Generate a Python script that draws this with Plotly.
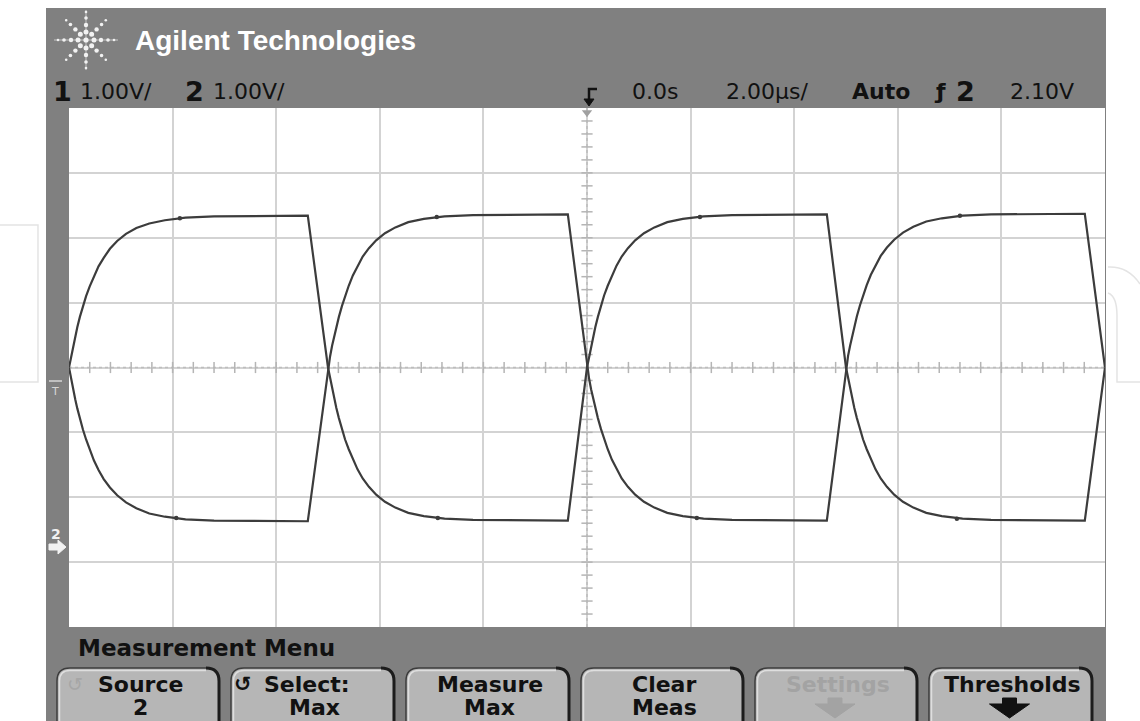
import math
import plotly.graph_objects as go

W, H = 1140, 721

# ---- acquired waveforms (time in µs, voltage in V) ----
t_us = [
    -10.00, -9.96, -9.92, -9.88, -9.84, -9.79, -9.73, -9.67, -9.60, -9.52, -9.43,
    -9.33, -9.21, -9.07, -8.90, -8.70, -8.45, -8.15, -7.75, -7.20, -5.39,
    -5.00, -4.96, -4.92, -4.88, -4.84, -4.79, -4.73, -4.67, -4.60, -4.52, -4.43,
    -4.33, -4.21, -4.07, -3.90, -3.70, -3.45, -3.15, -2.75, -2.20, -0.37,
    0.00, 0.04, 0.08, 0.12, 0.16, 0.21, 0.27, 0.33, 0.40, 0.48, 0.57,
    0.67, 0.79, 0.93, 1.10, 1.30, 1.55, 1.85, 2.25, 2.80, 4.63,
    5.00, 5.04, 5.08, 5.12, 5.16, 5.21, 5.27, 5.33, 5.40, 5.48, 5.57,
    5.67, 5.79, 5.93, 6.10, 6.30, 6.55, 6.85, 7.25, 7.80, 9.61,
    10.00,
]
ch1_v = [
    0.00, 0.17, 0.33, 0.48, 0.62, 0.78, 0.95, 1.10, 1.25, 1.41, 1.56,
    1.69, 1.83, 1.95, 2.06, 2.15, 2.22, 2.27, 2.31, 2.33, 2.34,
    0.00, -0.17, -0.34, -0.49, -0.62, -0.78, -0.95, -1.11, -1.26, -1.42, -1.57,
    -1.71, -1.84, -1.96, -2.07, -2.16, -2.24, -2.29, -2.33, -2.35, -2.36,
    0.00, 0.17, 0.34, 0.49, 0.62, 0.78, 0.95, 1.11, 1.26, 1.42, 1.57,
    1.71, 1.84, 1.96, 2.07, 2.16, 2.24, 2.29, 2.33, 2.35, 2.36,
    0.00, -0.17, -0.34, -0.49, -0.62, -0.78, -0.95, -1.11, -1.26, -1.42, -1.57,
    -1.71, -1.84, -1.96, -2.07, -2.16, -2.24, -2.29, -2.33, -2.35, -2.36,
    0.00,
]
ch2_v = [
    0.00, -0.18, -0.34, -0.49, -0.63, -0.79, -0.96, -1.11, -1.27, -1.43, -1.58,
    -1.72, -1.85, -1.97, -2.08, -2.17, -2.25, -2.30, -2.34, -2.36, -2.37,
    0.00, 0.17, 0.34, 0.49, 0.62, 0.78, 0.95, 1.11, 1.26, 1.42, 1.57,
    1.71, 1.84, 1.96, 2.07, 2.16, 2.24, 2.29, 2.33, 2.35, 2.36,
    0.00, -0.17, -0.34, -0.49, -0.62, -0.78, -0.95, -1.11, -1.26, -1.42, -1.57,
    -1.71, -1.84, -1.96, -2.07, -2.16, -2.24, -2.29, -2.33, -2.35, -2.36,
    0.00, 0.18, 0.34, 0.49, 0.63, 0.79, 0.96, 1.11, 1.27, 1.43, 1.58,
    1.72, 1.85, 1.97, 2.08, 2.17, 2.25, 2.30, 2.34, 2.36, 2.37,
    0.00,
]

# measurement cursor dots sitting on the flat tops / bottoms
dot_t = [-7.86, -7.93, -2.90, -2.88, 2.18, 2.12, 7.20, 7.14]
dot_v = [2.30, -2.32, 2.32, -2.32, 2.32, -2.32, 2.34, -2.33]

# ---- screen settings ----
time_per_div = 2.0      # µs/div
volt_per_div = 1.0      # V/div
h_divs, v_divs = 10, 8
trigger_time = 0.0
x_range = [-h_divs / 2 * time_per_div, h_divs / 2 * time_per_div]
y_range = [-v_divs / 2 * volt_per_div, v_divs / 2 * volt_per_div]

brand = "Agilent Technologies"
ch_scales = [("1", "1.00V/"), ("2", "1.00V/")]
timebase = ["0.0s", "2.00µs/"]
trig_mode, trig_src, trig_level = "Auto", "2", "2.10V"
menu_title = "Measurement Menu"
buttons = [("Source", "2"), ("Select:", "Max"), ("Measure", "Max"),
           ("Clear", "Meas"), ("Settings", ""), ("Thresholds", "")]

# ---- screen geometry (pixels) ----
FRAME = (46, 8, 1106, 721)
GRID = (69, 108, 1105, 627)
FRAME_GRAY = "#808080"
TRACE = "#3c3c3c"


def px(x):
    return x / W


def py(y):
    return 1 - y / H


shapes = []
annotations = []


def rect(x0, y0, x1, y1, fill, layer="below"):
    shapes.append(dict(type="rect", xref="paper", yref="paper",
                       x0=px(x0), x1=px(x1), y0=py(y1), y1=py(y0),
                       fillcolor=fill, line=dict(width=0), layer=layer))


def path(d_pts, color, width=1.5, fill=None, closed=False, layer="above"):
    parts = []
    for cmd, *c in d_pts:
        conv = ["%.5f,%.5f" % (px(c[i]), py(c[i + 1])) for i in range(0, len(c), 2)]
        parts.append(cmd + " " + " ".join(conv))
    d = " ".join(parts) + (" Z" if closed else "")
    shapes.append(dict(type="path", xref="paper", yref="paper", path=d,
                       line=dict(color=color, width=width),
                       fillcolor=fill if fill else "rgba(0,0,0,0)", layer=layer))


def dot(cx, cy, r, color):
    shapes.append(dict(type="circle", xref="paper", yref="paper",
                       x0=px(cx - r), x1=px(cx + r), y0=py(cy + r), y1=py(cy - r),
                       fillcolor=color, line=dict(width=0), layer="above"))


def label(x, y, text, size, color="#111111", bold=False, xanchor="left",
          family="DejaVu Sans"):
    annotations.append(dict(x=px(x), y=py(y), xref="paper", yref="paper",
                            text="<b>%s</b>" % text if bold else text,
                            showarrow=False, xanchor=xanchor, yanchor="middle",
                            font=dict(family=family, size=size, color=color)))


# bezel and screen
rect(*FRAME, FRAME_GRAY)
rect(*GRID, "#ffffff")

# faint watermark outlines outside the bezel
path([("M", 0, 225), ("L", 38, 225), ("L", 38, 382), ("L", 0, 382)], "#e4e4e4", 1.5)
path([("M", 1108, 267), ("Q", 1128, 266, 1140, 284)], "#e4e4e4", 1.5)
path([("M", 1108, 293), ("Q", 1117, 296, 1117, 316), ("L", 1117, 382), ("L", 1140, 382)],
     "#e4e4e4", 1.5)

# brand spark logo
lx, ly = 86, 40
path([("M", lx, ly - 30), ("L", lx, ly + 30)], "rgba(255,255,255,0.55)", 1)
path([("M", lx - 32, ly), ("L", lx + 32, ly)], "rgba(255,255,255,0.55)", 1)
dot(lx, ly, 2.6, "#f4f4f4")
for k in range(8):
    a = math.radians(45 * k)
    for r, s in [(8, 2.5), (15, 2.2), (22, 1.8), (28, 1.3)]:
        dot(lx + r * math.cos(a), ly + r * math.sin(a), s, "#f2f2f2")
label(133, 41, brand, 28, color="#ffffff", bold=True, family="Liberation Sans")

# channel scale readouts
label(51, 92, ch_scales[0][0], 27, bold=True)
label(78, 92, ch_scales[0][1], 22)
label(183, 92, ch_scales[1][0], 27, bold=True)
label(211, 92, ch_scales[1][1], 22)

# trigger position glyph
path([("M", 597, 89), ("L", 589, 89), ("L", 589, 101)], "#111111", 2.5)
path([("M", 584, 99), ("L", 594, 99), ("L", 589, 106)], "#111111", 1, fill="#111111",
     closed=True)

# timebase / trigger readouts
label(630, 92, timebase[0], 22)
label(724, 92, timebase[1], 22)
label(850, 92, trig_mode, 22, bold=True)
label(932, 92, "ƒ", 22, bold=True)
label(954, 92, trig_src, 27, bold=True)
label(1008, 92, trig_level, 22)

# left-margin markers
path([("M", 49, 381), ("L", 62, 381)], "#d6d6d6", 1.5)
label(55, 391, "T", 11, color="#d6d6d6", xanchor="center")
label(56, 534, "2", 14, color="#f2f2f2", bold=True, xanchor="center")
path([("M", 49, 544), ("L", 58, 544), ("L", 58, 540), ("L", 66, 547), ("L", 58, 554),
      ("L", 58, 550), ("L", 49, 550)], "#f2f2f2", 1, fill="#f2f2f2", closed=True)

# menu
label(76, 648, menu_title, 23, bold=True)

btn_x = [(57, 219), (231, 394), (406, 569), (581, 743), (755, 917), (929, 1092)]
top, bot, rr = 668, 726, 13
for (x0, x1), (l1, l2) in zip(btn_x, buttons):
    body = [("M", x0, bot), ("L", x0, top + rr), ("Q", x0, top, x0 + rr, top),
            ("L", x1 - rr, top), ("Q", x1, top, x1, top + rr), ("L", x1, bot)]
    path(body, "#3c3c3c", 1.5, fill="#b6b6b6", closed=True)
    path([("M", x0 + 2.5, bot), ("L", x0 + 2.5, top + rr),
          ("Q", x0 + 2.5, top + 2.5, x0 + rr, top + 2.5), ("L", x1 - rr, top + 2.5)],
         "#dedede", 1.5)
    path([("M", x1 - rr, top), ("Q", x1, top, x1, top + rr), ("L", x1, bot)], "#1c1c1c", 3)
    cx = (x0 + x1) / 2
    grey = l1 == "Settings"
    col = "#a3a3a3" if grey else "#111111"
    if l1 == "Select:":
        label(cx - 6, 684, l1, 22, bold=True, xanchor="center")
        label(x0 + 12, 684, "↺", 21, bold=True, xanchor="center")
    else:
        label(cx + 2, 684, l1, 22, color=col, bold=True, xanchor="center")
    if l2:
        label(cx + 2, 707, l2, 22, bold=True, xanchor="center")
    if l1 == "Source":
        label(x0 + 18, 684, "↺", 19, color="#a6a6a6", xanchor="center")
    if l1 in ("Settings", "Thresholds"):
        ax = cx - 1
        path([("M", ax - 7, 698), ("L", ax + 7, 698), ("L", ax + 7, 704), ("L", ax + 20, 704),
              ("L", ax, 718), ("L", ax - 20, 704), ("L", ax - 7, 704)],
             col, 1, fill=col, closed=True)

fig = go.Figure()

# graticule centre lines with minor ticks
fig.add_trace(go.Scatter(x=x_range, y=[0, 0], mode="lines",
                         line=dict(color="#bdbdbd", width=1.5, dash="dot"), hoverinfo="skip"))
fig.add_trace(go.Scatter(x=[0, 0], y=y_range, mode="lines",
                         line=dict(color="#bdbdbd", width=1.5, dash="dot"), hoverinfo="skip"))
minor_x = [x_range[0] + i * time_per_div / 5 for i in range(1, h_divs * 5)]
minor_y = [y_range[0] + i * volt_per_div / 5 for i in range(1, v_divs * 5)]
fig.add_trace(go.Scatter(x=minor_x, y=[0] * len(minor_x), mode="markers",
                         marker=dict(symbol="line-ns", size=8,
                                     line=dict(color="#b5b5b5", width=1.5)), hoverinfo="skip"))
fig.add_trace(go.Scatter(x=[0] * len(minor_y), y=minor_y, mode="markers",
                         marker=dict(symbol="line-ew", size=8,
                                     line=dict(color="#b5b5b5", width=1.5)), hoverinfo="skip"))
fig.add_trace(go.Scatter(x=[trigger_time], y=[y_range[1] - 0.07], mode="markers",
                         marker=dict(symbol="triangle-down", size=9, color="#a0a0a0"),
                         hoverinfo="skip"))

# channel traces
fig.add_trace(go.Scatter(x=t_us, y=ch1_v, mode="lines", name="1",
                         line=dict(color=TRACE, width=2.2)))
fig.add_trace(go.Scatter(x=t_us, y=ch2_v, mode="lines", name="2",
                         line=dict(color=TRACE, width=2.2)))
fig.add_trace(go.Scatter(x=dot_t, y=dot_v, mode="markers",
                         marker=dict(size=4.5, color=TRACE), hoverinfo="skip"))

fig.update_layout(
    width=W, height=H,
    margin=dict(l=0, r=0, t=0, b=0),
    paper_bgcolor="#ffffff",
    plot_bgcolor="rgba(0,0,0,0)",
    showlegend=False,
    xaxis=dict(domain=[px(GRID[0]), px(GRID[2])], range=x_range, tick0=0, dtick=time_per_div,
               showgrid=True, gridcolor="#d3d3d3", gridwidth=2, zeroline=False,
               showticklabels=False, ticks="", showline=False, fixedrange=True),
    yaxis=dict(domain=[py(GRID[3]), py(GRID[1])], range=y_range, tick0=0, dtick=volt_per_div,
               showgrid=True, gridcolor="#d3d3d3", gridwidth=2, zeroline=False,
               showticklabels=False, ticks="", showline=False, fixedrange=True),
    shapes=shapes,
    annotations=annotations,
)

fig.write_html("out.html", config={"displayModeBar": False})
